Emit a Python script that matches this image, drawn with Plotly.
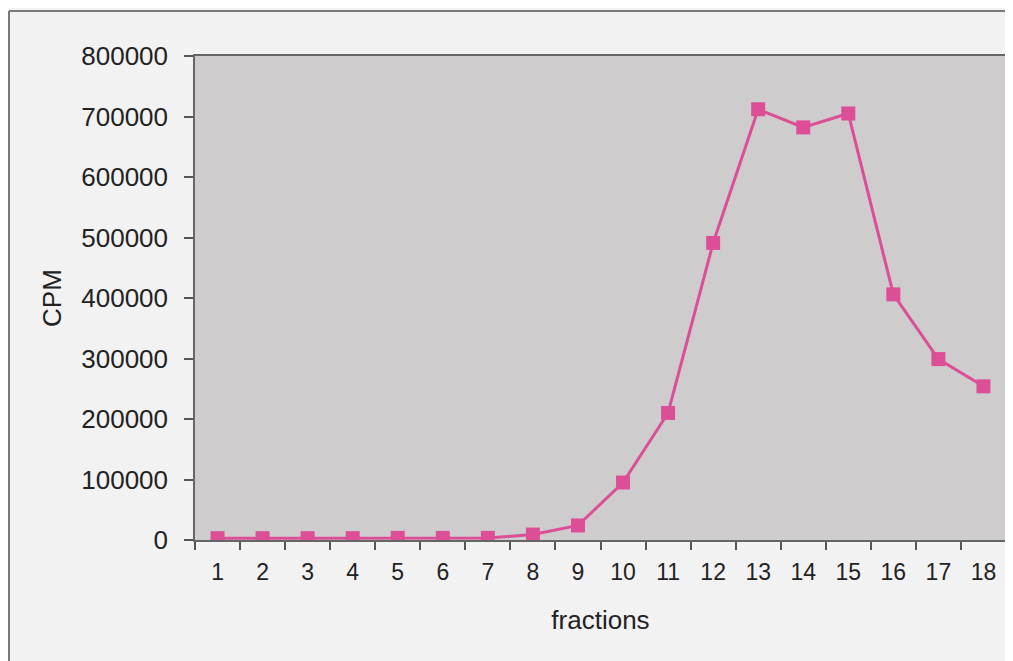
import plotly.graph_objects as go

fractions = [str(i) for i in range(1, 19)]
cpm = [3000, 3000, 3000, 3000, 3500, 3500, 3500, 9000, 24000, 95000,
       210000, 491000, 712000, 682000, 705000, 406000, 299000, 254000]
y_ticks = [0, 100000, 200000, 300000, 400000, 500000, 600000, 700000, 800000]

pink = "#dc4f97"
font_family = "Liberation Sans, Arial, sans-serif"

fig = go.Figure()
fig.add_trace(go.Scatter(
    x=fractions, y=cpm, mode="lines+markers",
    line=dict(color=pink, width=3),
    marker=dict(symbol="square", size=14, color=pink),
    showlegend=False,
))

fig.update_layout(
    width=1005, height=653,
    margin=dict(l=187, r=7, t=48, b=121),
    paper_bgcolor="#f3f2f3",
    plot_bgcolor="#cecccd",
    font=dict(family=font_family, color="#222222"),
    xaxis=dict(
        type="category",
        range=[-0.5, 17.5],
        automargin=False,
        tickson="boundaries",
        ticks="outside", ticklen=8, tickcolor="#555555", tickwidth=1.5,
        showline=True, linecolor="#666666", linewidth=1.5, mirror=True,
        showgrid=False, zeroline=False,
        tickfont=dict(size=23, family=font_family, color="#222222"),
        ticklabelstandoff=11,
        title=dict(text="fractions", font=dict(size=26, family=font_family, color="#222222"), standoff=26),
    ),
    yaxis=dict(
        range=[0, 800000],
        automargin=False,
        tickvals=y_ticks, ticktext=[str(v) for v in y_ticks],
        ticks="outside", ticklen=9, tickcolor="#555555", tickwidth=1.5,
        showline=True, linecolor="#666666", linewidth=1.5, mirror=True,
        showgrid=False, zeroline=False,
        tickfont=dict(size=26, family=font_family, color="#222222"),
        ticklabelstandoff=11,
        title=dict(text="CPM", font=dict(size=26, family=font_family, color="#222222"), standoff=12),
    ),
    shapes=[
        dict(type="line", xref="paper", yref="paper",
             x0=-186/811, x1=1.1, y0=1 + 45/484, y1=1 + 45/484,
             line=dict(color="#7a7a7a", width=2)),
        dict(type="line", xref="paper", yref="paper",
             x0=-186/811, x1=-186/811, y0=1 + 45/484, y1=-0.3,
             line=dict(color="#7a7a7a", width=2)),
    ],
)

fig.write_html("out.html")
